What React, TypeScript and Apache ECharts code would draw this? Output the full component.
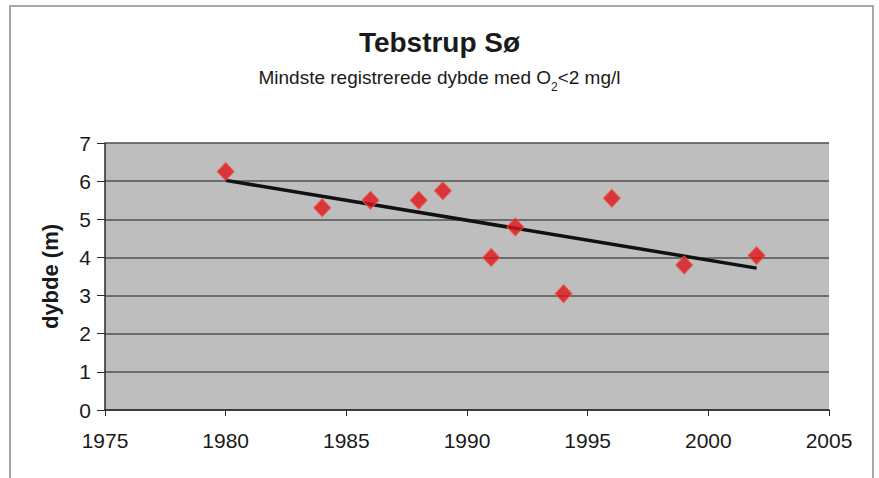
import React, { useEffect, useRef } from "react";
import * as echarts from "echarts";

const years = [1980, 1984, 1986, 1988, 1989, 1991, 1992, 1994, 1996, 1999, 2002];
const depth = [6.25, 5.3, 5.5, 5.5, 5.75, 4.0, 4.8, 3.05, 5.55, 3.8, 4.05];
const trendYears = [1980, 2002];
const trendValues = [6.02, 3.72];

export default function App() {
  const ref = useRef<HTMLDivElement>(null);
  useEffect(() => {
    if (!ref.current) return;
    const chart = echarts.init(ref.current, null, { renderer: "svg" });
    const font = "Liberation Sans, Arial, sans-serif";
    chart.setOption({
      animation: false,
      backgroundColor: "#ffffff",
      title: {
        left: "center",
        top: 23,
        text: "Tebstrup Sø",
        textStyle: { fontFamily: font, fontSize: 28, fontWeight: "bold", color: "#1a1a1a" },
        subtext: "{a|Mindste registrerede dybde med O}{s|2}{a|<2 mg/l}",
        itemGap: 7,
        subtextStyle: {
          fontFamily: font,
          color: "#1a1a1a",
          rich: {
            a: { fontFamily: font, fontSize: 19, color: "#1a1a1a", verticalAlign: "bottom", lineHeight: 24 },
            s: { fontFamily: font, fontSize: 12, color: "#1a1a1a", verticalAlign: "bottom", lineHeight: 24, padding: [0, 0, -6, 0] },
          },
        },
      },
      graphic: [
        {
          type: "rect",
          shape: { x: 10, y: 6, width: 863, height: 490 },
          style: { fill: "none", stroke: "#8c8c8c", lineWidth: 1.5 },
          silent: true,
        },
      ],
      grid: { left: 105, right: 50, top: 143, bottom: 68, show: true, backgroundColor: "#bebebe", borderWidth: 0 },
      xAxis: {
        type: "value",
        min: 1975,
        max: 2005,
        interval: 5,
        axisLine: { show: true, lineStyle: { color: "#2a2a2a", width: 1.5 } },
        axisTick: { show: true, length: 6, lineStyle: { color: "#2a2a2a" } },
        splitLine: { show: false },
        axisLabel: { fontFamily: font, fontSize: 21, color: "#1a1a1a", margin: 20, formatter: (v: number) => String(v) },
      },
      yAxis: {
        type: "value",
        min: 0,
        max: 7,
        interval: 1,
        name: "dybde (m)",
        nameLocation: "middle",
        nameGap: 44,
        nameTextStyle: { fontFamily: font, fontSize: 22, fontWeight: "bold", color: "#1a1a1a" },
        axisLine: { show: true, lineStyle: { color: "#2a2a2a", width: 1.5 } },
        axisTick: { show: true, length: 8, lineStyle: { color: "#2a2a2a" } },
        splitLine: { show: true, lineStyle: { color: "#505050", width: 1.5 } },
        axisLabel: { fontFamily: font, fontSize: 21, color: "#1a1a1a", margin: 14 },
      },
      series: [
        {
          type: "line",
          data: trendYears.map((y, i) => [y, trendValues[i]]),
          symbol: "none",
          lineStyle: { color: "#111111", width: 3.5 },
          z: 2,
        },
        {
          type: "scatter",
          data: years.map((y, i) => [y, depth[i]]),
          symbol: "diamond",
          symbolSize: [17, 18],
          itemStyle: { color: "#e0141b", borderColor: "#ec5b48", borderWidth: 1 },
          z: 3,
        },
      ],
    });
    return () => chart.dispose();
  }, []);
  return <div ref={ref} style={{ position: "absolute", left: 0, top: 0, width: 879, height: 478 }} />;
}
